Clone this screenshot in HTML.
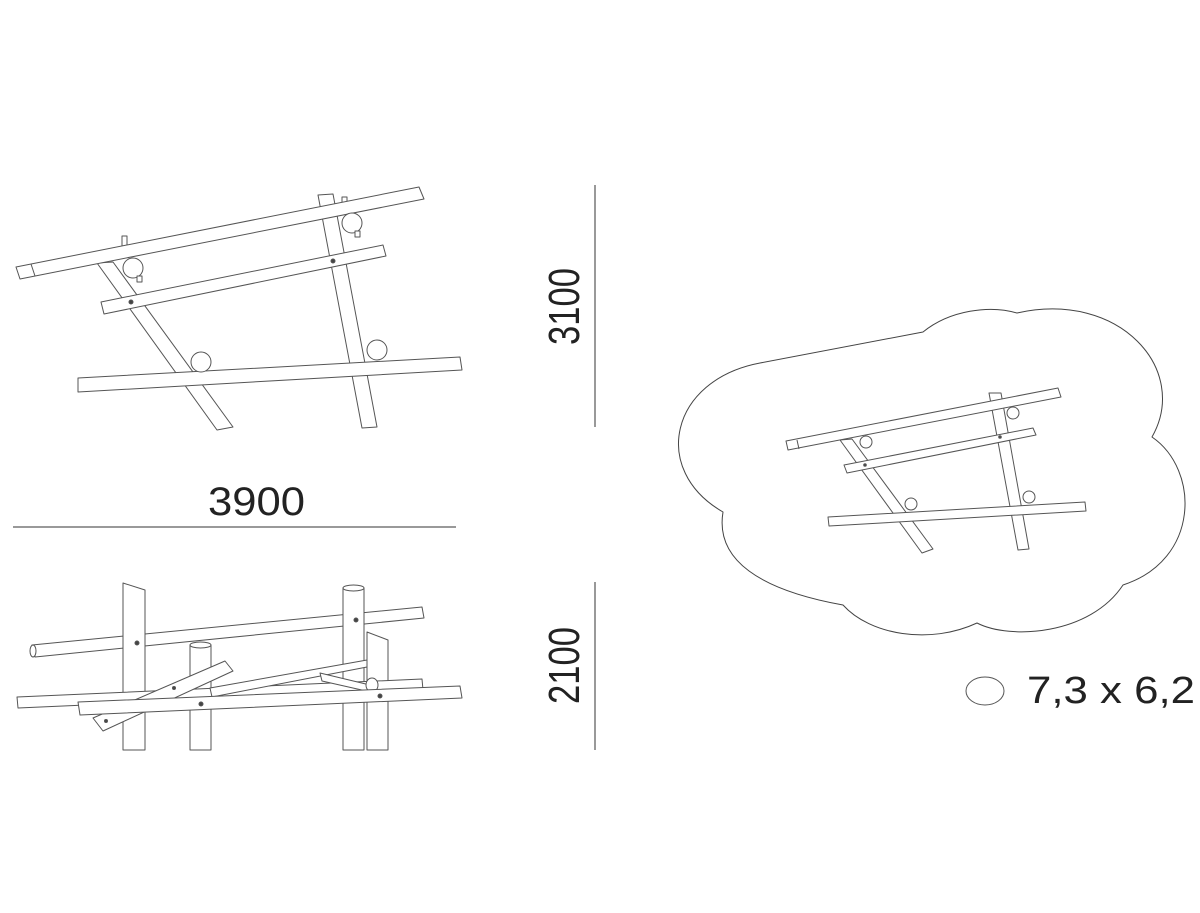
<!DOCTYPE html>
<html><head><meta charset="utf-8"><style>html,body{margin:0;padding:0;background:#fff}svg{display:block}</style></head>
<body>
<svg width="1200" height="913" viewBox="0 0 1200 913" xmlns="http://www.w3.org/2000/svg" font-family="Liberation Sans Narrow, Liberation Sans, sans-serif">
<g fill="#fff" stroke="#555" stroke-width="1" stroke-linejoin="round">
<!-- TOP-LEFT VIEW -->
<polygon points="318,195 333,194 377,427 362,428"/>
<polygon points="97,263 113,262 233,427 217,430"/>
<rect x="122" y="236" width="5" height="10"/>
<rect x="342" y="197" width="5" height="10"/>
<polygon points="16,267 419,187 424,199 20,279"/>
<line x1="31" y1="264" x2="35" y2="276"/>
<polygon points="101,302 383,245 386,256 104,314"/>
<circle cx="131" cy="302" r="2" fill="#444"/>
<circle cx="333" cy="261" r="2" fill="#444"/>
<circle cx="133" cy="268" r="10"/><rect x="137" y="276" width="5" height="6"/>
<circle cx="352" cy="223" r="10"/><rect x="355" y="231" width="5" height="6"/>
<polygon points="78,378 460,357 462,370 78,392"/>
<circle cx="201" cy="362" r="10"/>
<circle cx="377" cy="350" r="10"/>
<!-- BOTTOM-LEFT VIEW -->
<polygon points="32,645 422,607 424,618 35,657"/>
<ellipse cx="33" cy="651" rx="3" ry="6"/>
<polygon points="123,583 145,590 145,750 123,750"/>
<polygon points="343,588 364,588 364,750 343,750"/>
<ellipse cx="353.5" cy="588" rx="10.5" ry="3"/>
<circle cx="137" cy="643" r="2" fill="#444"/>
<circle cx="356" cy="620" r="2" fill="#444"/>
<polygon points="190,645 211,645 211,750 190,750"/>
<ellipse cx="200.5" cy="645" rx="10.5" ry="3"/>
<polygon points="367,632 388,640 388,750 367,750"/>
<polygon points="17,697 422,679 423,690 18,708"/>
<polygon points="210,688 367,660 367,667 212,697"/>
<polygon points="93,718 225,661 233,671 103,731"/>
<circle cx="174" cy="688" r="1.5" fill="#444"/>
<circle cx="106" cy="721" r="1.5" fill="#444"/>
<polygon points="320,673 370,685 375,693 322,681"/>
<ellipse cx="372" cy="685" rx="6" ry="7"/>
<polygon points="78,702 460,686 462,698 80,715"/>
<circle cx="201" cy="704" r="2" fill="#444"/>
<circle cx="380" cy="696" r="2" fill="#444"/>
<!-- CLOUD -->
<path d="M923,332 C950,310 990,305 1017,313 C1120,290 1190,370 1152,437 C1200,470 1200,560 1123,585 C1090,635 1010,640 977,623 C930,645 870,635 843,605 C760,590 715,560 723,512 C650,470 670,380 760,363 Z" stroke="#444"/>
<polygon points="989,393 1001,393 1029,549 1018,550"/>
<polygon points="840,440 852,439 933,549 922,553"/>
<polygon points="786,441 1058,388 1061,397 788,450"/>
<line x1="797" y1="440" x2="799" y2="449"/>
<polygon points="844,465 1033,428 1036,435 847,473"/>
<circle cx="865" cy="465" r="1.3" fill="#444"/>
<circle cx="1000" cy="437" r="1.3" fill="#444"/>
<circle cx="866" cy="442" r="6"/>
<circle cx="1013" cy="413" r="6"/>
<polygon points="828,517 1085,502 1086,511 829,526"/>
<circle cx="911" cy="504" r="6"/>
<circle cx="1029" cy="497" r="6"/>
<!-- legend -->
<ellipse cx="985" cy="691" rx="19" ry="14"/>
</g>
<g stroke="#333" stroke-width="1">
<line x1="595" y1="185" x2="595" y2="427"/>
<line x1="13" y1="527" x2="456" y2="527"/>
<line x1="595" y1="582" x2="595" y2="750"/>
</g>
<g fill="#222">
<text x="208" y="515" font-size="40" textLength="97" lengthAdjust="spacingAndGlyphs">3900</text>
<text transform="translate(579,345) rotate(-90)" font-size="44" textLength="77" lengthAdjust="spacingAndGlyphs">3100</text>
<text transform="translate(579,704) rotate(-90)" font-size="44" textLength="77" lengthAdjust="spacingAndGlyphs">2100</text>
<text x="1027" y="703" font-size="38" font-family="Liberation Sans, sans-serif" textLength="168" lengthAdjust="spacingAndGlyphs">7,3 x 6,2</text>
</g>
</svg>
</body></html>
